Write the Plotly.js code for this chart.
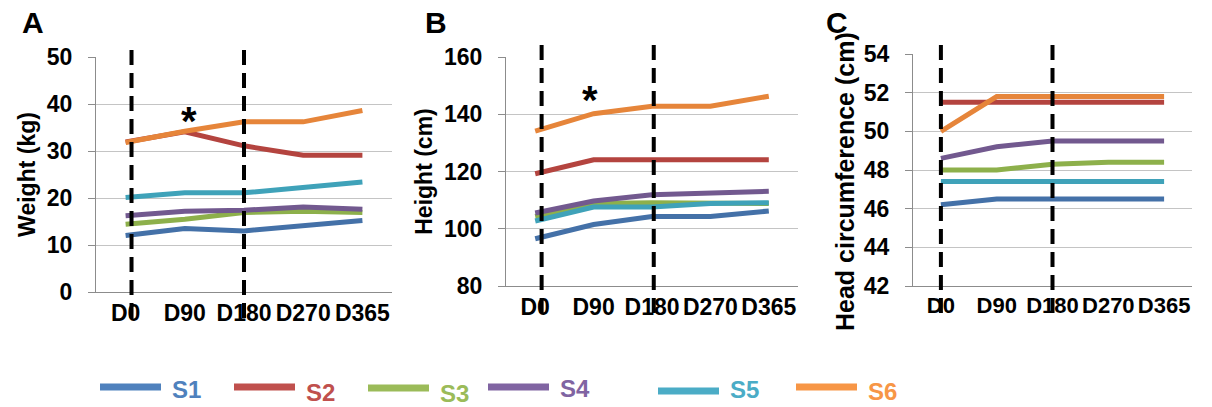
<!DOCTYPE html>
<html>
<head>
<meta charset="utf-8">
<script src="https://cdn.plot.ly/plotly-3.0.1.min.js"></script>
<style>html,body{margin:0;padding:0;background:#fff;}#chart{width:1212px;height:407px;}</style>
</head>
<body>
<div id="chart"></div>
<script>
// ---- data ----
const categories = ['D0', 'D90', 'D180', 'D270', 'D365'];
const seriesNames = ['S1', 'S2', 'S3', 'S4', 'S5', 'S6'];

// Panel A: Weight (kg)
const weightS1 = [12.0, 13.5, 13.0, 14.2, 15.2];
const weightS2 = [31.9, 34.1, 31.1, 29.1, 29.1];
const weightS3 = [14.4, 15.5, 16.9, 17.2, 16.9];
const weightS4 = [16.2, 17.2, 17.4, 18.1, 17.6];
const weightS5 = [20.1, 21.1, 21.1, 22.2, 23.4];
const weightS6 = [31.8, 34.2, 36.2, 36.2, 38.6];

// Panel B: Height (cm)
const heightS1 = [96.5, 101.5, 104.3, 104.3, 106.2];
const heightS2 = [119.2, 124.1, 124.1, 124.1, 124.1];
const heightS3 = [104.3, 108.8, 109.1, 109.1, 108.8];
const heightS4 = [105.5, 109.7, 111.9, 112.7, 113.1];
const heightS5 = [102.7, 107.6, 107.6, 108.8, 109.1];
const heightS6 = [134.1, 140.2, 142.8, 142.8, 146.3];

// Panel C: Head circumference (cm)
const headS1 = [46.2, 46.5, 46.5, 46.5, 46.5];
const headS2 = [51.5, 51.5, 51.5, 51.5, 51.5];
const headS3 = [48.0, 48.0, 48.3, 48.4, 48.4];
const headS4 = [48.6, 49.2, 49.5, 49.5, 49.5];
const headS5 = [47.4, 47.4, 47.4, 47.4, 47.4];
const headS6 = [50.0, 51.8, 51.8, 51.8, 51.8];

const lineColors = ['#4471A8', '#B4443F', '#8DB04B', '#72598F', '#3FA2B9', '#E6853A'];
const legendColors = ['#4F81BD', '#C0504D', '#9BBB59', '#8064A2', '#4BACC6', '#F79646'];

// ---- layout helpers ----
const W = 1212, H = 407;
const px = x => x / W;
const py = y => 1 - y / H;
const FONT = 'Arial, "Liberation Sans", sans-serif';

const panels = [
  {series: [weightS1, weightS2, weightS3, weightS4, weightS5, weightS6], xa: 'x', ya: 'y'},
  {series: [heightS1, heightS2, heightS3, heightS4, heightS5, heightS6], xa: 'x2', ya: 'y2'},
  {series: [headS1, headS2, headS3, headS4, headS5, headS6], xa: 'x3', ya: 'y3'}
];

const traces = [];
panels.forEach(p => {
  p.series.forEach((vals, i) => {
    traces.push({
      type: 'scatter', mode: 'lines', name: seriesNames[i],
      x: categories, y: vals, xaxis: p.xa, yaxis: p.ya,
      line: {color: lineColors[i], width: 5},
      showlegend: false, hoverinfo: 'skip'
    });
  });
});

function xAxis(domain, size) {
  return {
    domain: domain, type: 'category', range: [-0.5, 4.5],
    showgrid: false, zeroline: false, showline: true,
    linecolor: '#8c8c8c', linewidth: 1, ticks: '', tickangle: 0,
    tickfont: {family: FONT, size: size, color: '#000', weight: 'bold'},
    fixedrange: true
  };
}
function yAxis(domain, range, dtick, title, tsize) {
  return {
    domain: domain, range: range, dtick: dtick, tick0: range[0],
    showgrid: true, gridcolor: '#c4c4c4', gridwidth: 1, zeroline: false,
    showline: true, linecolor: '#8c8c8c', linewidth: 1,
    ticks: 'outside', ticklen: 7, tickcolor: '#8c8c8c',
    ticklabelstandoff: 11,
    tickfont: {family: FONT, size: 23, color: '#000', weight: 'bold'},
    title: {text: title, font: {family: FONT, size: tsize, color: '#000', weight: 'bold'}, standoff: 4},
    fixedrange: true
  };
}

const shapes = [];
function dashed(xref, xv, y0, y1) {
  shapes.push({type: 'line', xref: xref, yref: 'paper', x0: xv, x1: xv,
    y0: py(y1), y1: py(y0), line: {color: '#000', width: 4, dash: '15px,8px'}});
}
dashed('x', 0.1, 43, 318);
dashed('x', 2.0, 43, 318);
dashed('x2', 0.11, 43, 313);
dashed('x2', 2.03, 43, 313);
dashed('x3', 0.0, 43, 313);
dashed('x3', 2.0, 43, 313);

const bold = (size, color) => ({family: FONT, size: size, color: color || '#000', weight: 'bold'});
const annotations = [
  {xref: 'paper', yref: 'paper', x: px(20), y: py(22), yanchor: 'middle', text: 'A', showarrow: false, font: bold(30)},
  {xref: 'paper', yref: 'paper', x: px(436), y: py(22), yanchor: 'middle', text: 'B', showarrow: false, font: bold(30)},
  {xref: 'paper', yref: 'paper', x: px(850), y: py(22), yanchor: 'middle', text: 'C', showarrow: false, font: bold(30)},
  {xref: 'paper', yref: 'paper', x: px(845), y: py(182), xanchor: 'center', yanchor: 'middle',
    textangle: -90, text: 'Head circumference (cm)', showarrow: false, font: bold(25)},
  {xref: 'x', yref: 'y', x: 1.07, y: 36.3, text: '*', showarrow: false, font: bold(40)},
  {xref: 'x2', yref: 'y2', x: 0.94, y: 145.0, text: '*', showarrow: false, font: bold(40)}
];

// legend built from series names and colours
const legLineX = [100, 234, 368, 488, 658, 796];
const legLineY = [387, 387, 388, 387, 391, 387];
const legTextY = [389, 392, 393, 388, 389, 391];
seriesNames.forEach((n, i) => {
  shapes.push({type: 'line', xref: 'paper', yref: 'paper',
    x0: px(legLineX[i]), x1: px(legLineX[i] + 61), y0: py(legLineY[i]), y1: py(legLineY[i]),
    line: {color: legendColors[i], width: 7}});
  annotations.push({xref: 'paper', yref: 'paper', x: px(legLineX[i] + 71), y: py(legTextY[i]),
    xanchor: 'left', yanchor: 'middle', text: n, showarrow: false, borderpad: 0,
    font: bold(24, legendColors[i])});
});

const layout = {
  width: W, height: H,
  margin: {l: 0, r: 0, t: 0, b: 0},
  paper_bgcolor: '#fff', plot_bgcolor: '#fff',
  showlegend: false,
  xaxis: xAxis([px(96), px(392)], 23),
  xaxis2: xAxis([px(506), px(798)], 23),
  xaxis3: xAxis([px(913), px(1192)], 22),
  yaxis: yAxis([py(292), py(57)], [0, 50], 10, 'Weight (kg)', 23),
  yaxis2: yAxis([py(286), py(57)], [80, 160], 20, 'Height (cm)', 23),
  yaxis3: yAxis([py(286), py(54)], [42, 54], 2, '', 24),
  shapes: shapes,
  annotations: annotations
};
layout.xaxis2.anchor = 'y2';
layout.yaxis2.anchor = 'x2';
layout.xaxis3.anchor = 'y3';
layout.yaxis3.anchor = 'x3';

Plotly.newPlot('chart', traces, layout, {displayModeBar: false, staticPlot: true});
</script>
</body>
</html>
